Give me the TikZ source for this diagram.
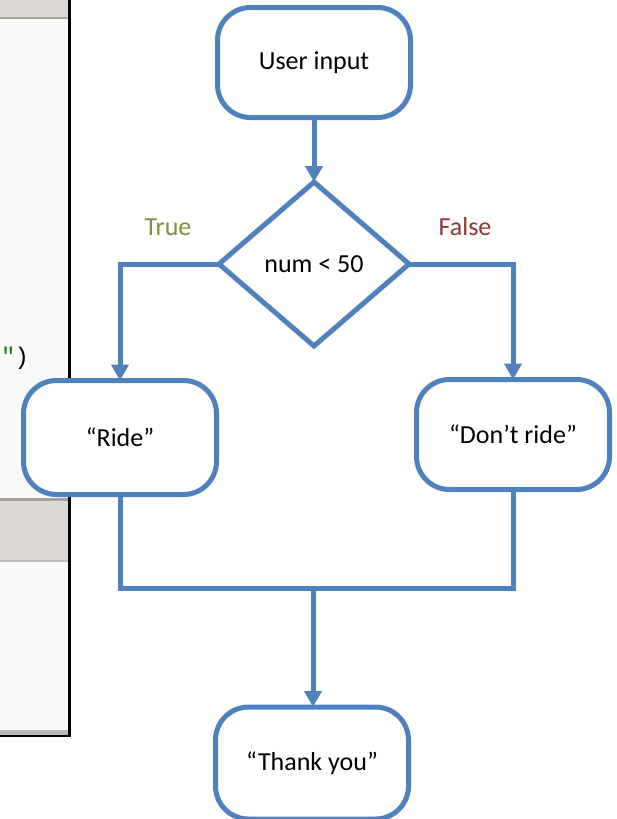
\documentclass[tikz,border=0pt]{standalone}
\usepackage{fontspec}
\setmainfont{Carlito}
\newfontfamily\codefont{Liberation Mono}
\usetikzlibrary{arrows.meta,shapes.geometric}
\definecolor{flowblue}{HTML}{4F81BD}
\definecolor{truegreen}{HTML}{77933C}
\definecolor{falsered}{HTML}{953735}
\definecolor{panelbg}{HTML}{F9F9F9}
\definecolor{barfill}{HTML}{DCD8D3}
\definecolor{barline}{HTML}{A6A19B}
\definecolor{codegreen}{RGB}{20,130,20}
\begin{document}
\begin{tikzpicture}[x=1pt,y=-1pt,
  every node/.style={font=\fontsize{26}{30}\selectfont},
  termbox/.style={draw=flowblue, line width=5pt, fill=white, rounded corners=33pt,
    minimum width=193pt, minimum height=112pt, inner sep=0pt, outer sep=0pt},
  decision/.style={draw=flowblue, line width=5pt, fill=white, diamond,
    minimum width=190pt, minimum height=164pt, inner sep=0pt, outer sep=0pt},
  flow/.style={draw=flowblue, line width=5pt},
  flowarrow/.style={flow, -{Triangle[width=17pt,length=16pt]}},
  branch/.style={font=\fontsize{26}{30}\selectfont}
]
\useasboundingbox (0,0) rectangle (617,819);
\fill[white] (0,0) rectangle (617,819);

% code editor panel on the left
\fill[panelbg] (0,0) rectangle (69,736);
\fill[barfill] (0,0) rectangle (69,17);
\fill[barline] (0,17) rectangle (69,19);
\fill[barfill] (0,498) rectangle (69,562);
\fill[barline] (0,498) rectangle (69,500.5);
\fill[black!25] (0,560) rectangle (69,562);
\fill[black!28] (0,730) rectangle (69,735);
\draw[black, line width=2.5pt] (0,736) -- (69.25,736) -- (69.25,0);
\node[anchor=base west, inner sep=0pt, font=\codefont\fontsize{24}{28}\selectfont]
  (code) at (1,364) {\textcolor{codegreen}{"}\hspace{-1pt})};

% flowchart nodes
\node[termbox, minimum height=110pt] (ui) at (314,62.5) {User input};
\node[decision] (d) at (314,264) {num < 50};
\node[termbox, minimum height=114pt] (ride) at (120,437.5) {“Ride”};
\node[termbox, minimum height=110pt] (dont) at (513,434.5) {“Don’t ride”};
\node[termbox] (thanks) at (312,763) {“Thank you”};

\node[branch, text=truegreen] (tl) at (168,227) {True};
\node[branch, text=falsered] (fl) at (465,227) {False};

% connectors
\draw[flowarrow] (ui.south) -- (d.north);
\draw[flowarrow] (d.west) -| (ride.north);
\draw[flowarrow] (d.east) -| (dont.north);
\coordinate (j) at (313,588);
\draw[flow] (ride.south) |- (j) -| (dont.south);
\draw[flowarrow] (j) -- (thanks.north -| j);
\end{tikzpicture}
\end{document}
